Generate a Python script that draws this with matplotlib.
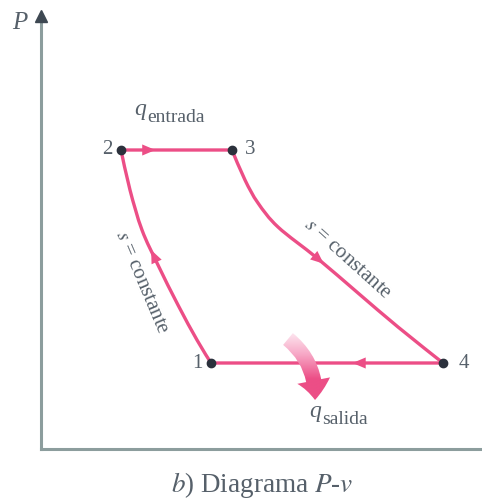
import numpy as np
import matplotlib
matplotlib.use("Agg")
import matplotlib.pyplot as plt
from matplotlib.patches import FancyArrowPatch, PathPatch
from matplotlib.path import Path

plt.rcParams["font.family"] = "Liberation Serif"
plt.rcParams["mathtext.fontset"] = "stix"

PINK = "#ec4e86"
DOT = "#2b313c"
INK = "#56606a"
AXIS = "#8c9d9d"

# state points (v, P) of the cycle
STATES = ["1", "2", "3", "4"]
V_STATE = [1.70, 0.80, 1.91, 4.02]
P_STATE = [0.86, 2.99, 2.99, 0.86]

# isentropic compression 1-2
V_COMP = [1.70, 1.56, 1.37, 1.17, 1.01, 0.89, 0.80]
P_COMP = [0.86, 1.09, 1.44, 1.84, 2.19, 2.59, 2.99]

# isentropic expansion 3-4
V_EXP = [1.91, 2.04, 2.17, 2.37, 2.76, 3.17, 3.57, 4.02]
P_EXP = [2.99, 2.69, 2.46, 2.22, 1.91, 1.56, 1.22, 0.86]


def smooth_curve(ax, v, p, **kw):
    """Draw a curve through the given points as Catmull-Rom Bezier pieces."""
    pts = np.column_stack([v, p])
    ext = np.vstack([pts[0], pts, pts[-1]])
    verts = [pts[0]]
    codes = [Path.MOVETO]
    for i in range(1, len(ext) - 2):
        c1 = ext[i] + (ext[i + 1] - ext[i - 1]) / 6
        c2 = ext[i + 1] - (ext[i + 2] - ext[i]) / 6
        verts += [c1, c2, ext[i + 1]]
        codes += [Path.CURVE4] * 3
    ax.add_patch(PathPatch(Path(verts, codes), fill=False, **kw))


def mid_arrow(ax, v, p, frac, size=16):
    """Small filled arrowhead sitting on a polyline at fraction frac of its length."""
    pts = ax.transData.transform(np.column_stack([v, p]))
    seg = np.hypot(*np.diff(pts, axis=0).T)
    cum = np.concatenate([[0], np.cumsum(seg)])
    s = frac * cum[-1]
    i = int(np.clip(np.searchsorted(cum, s) - 1, 0, len(seg) - 1))
    t = (s - cum[i]) / seg[i]
    d = (pts[i + 1] - pts[i]) / seg[i]
    tip = pts[i] + t * (pts[i + 1] - pts[i])
    inv = ax.transData.inverted()
    ax.annotate("", xy=inv.transform(tip), xytext=inv.transform(tip - d * size),
                arrowprops=dict(arrowstyle="-|>,head_length=0.95,head_width=0.4",
                                color=PINK, lw=0, mutation_scale=10,
                                shrinkA=0, shrinkB=0))


fig = plt.figure(figsize=(4.82, 5.0), dpi=100)
ax = fig.add_axes([41 / 482, 51 / 500, 441 / 482, 433 / 500])
ax.set_xlim(0, 4.41)
ax.set_ylim(0, 4.33)
ax.set_xticks([])
ax.set_yticks([])
for side in ("top", "right"):
    ax.spines[side].set_visible(False)
for side in ("left", "bottom"):
    ax.spines[side].set_color(AXIS)
    ax.spines[side].set_linewidth(2.2)
ax.plot(0, 1, marker="^", ms=8, color="#3e4852", transform=ax.transAxes,
        clip_on=False, zorder=5)
ax.text(-0.21, 4.26, "P", style="italic", fontsize=18, color=INK,
        ha="center", va="center")

# cycle: 1-2 compression, 2-3 heat in, 3-4 expansion, 4-1 heat out
line_kw = dict(color=PINK, lw=2.4, capstyle="round", zorder=2)
smooth_curve(ax, V_COMP, P_COMP, **line_kw)
smooth_curve(ax, [V_STATE[1], V_STATE[2]], [P_STATE[1], P_STATE[2]], **line_kw)
smooth_curve(ax, V_EXP, P_EXP, **line_kw)
smooth_curve(ax, [V_STATE[3], V_STATE[0]], [P_STATE[3], P_STATE[0]], **line_kw)

mid_arrow(ax, V_COMP, P_COMP, 0.55)
mid_arrow(ax, [V_STATE[1], V_STATE[2]], [P_STATE[1], P_STATE[2]], 0.31)
mid_arrow(ax, V_EXP, P_EXP, 0.49)
mid_arrow(ax, [V_STATE[3], V_STATE[0]], [P_STATE[3], P_STATE[0]], 0.39)

ax.plot(V_STATE, P_STATE, "o", ms=6, color=DOT, zorder=4)
offsets = {"1": (-14, 0), "2": (-14, 0), "3": (18, 0), "4": (21, 0)}
for name, v, p in zip(STATES, V_STATE, P_STATE):
    ax.annotate(name, (v, p), xytext=offsets[name], textcoords="offset pixels",
                ha="center", va="center", fontsize=15, color=INK)

# heat rejected: fat curved arrow fading in from its tail
big = FancyArrowPatch((2.47, 1.10), (2.74, 0.49),
                      connectionstyle="arc3,rad=-0.25",
                      arrowstyle="simple,head_length=1.4,head_width=2.4,tail_width=1.1",
                      mutation_scale=10, shrinkA=0, shrinkB=0,
                      facecolor="none", edgecolor="none", zorder=3)
ax.add_patch(big)
grad = np.linspace(0, 1, 100)[:, None]
cmap = matplotlib.colors.LinearSegmentedColormap.from_list(
    "fade", ["#fef0f6", "#f7a8c6", PINK, PINK])
im = ax.imshow(grad, extent=(2.3, 3.0, 0.45, 1.2), origin="upper",
               cmap=cmap, aspect="auto", zorder=3, interpolation="bilinear")
im.set_clip_path(big)
ax.set_xlim(0, 4.41)
ax.set_ylim(0, 4.33)

# heat labels
ax.text(0.93, 3.34, "q", style="italic", fontsize=17, color=INK, va="baseline")
ax.text(1.06, 3.27, "entrada", fontsize=14, color=INK, va="baseline")
ax.text(2.68, 0.32, "q", style="italic", fontsize=17, color=INK, va="baseline")
ax.text(2.81, 0.25, "salida", fontsize=14, color=INK, va="baseline")

# isentrope labels
ax.text(1.01, 1.67, r"$s$ = constante", rotation=-67, rotation_mode="anchor",
        ha="center", va="center", fontsize=15, color=INK)
ax.text(3.06, 1.90, r"$s$ = constante", rotation=-42, rotation_mode="anchor",
        ha="center", va="center", fontsize=15, color=INK)

fig.text(0.544, 0.03, r"$b$) Diagrama $P$-$v$", ha="center", va="center",
         fontsize=19.5, color=INK)

fig.savefig("out.png", dpi=100)
